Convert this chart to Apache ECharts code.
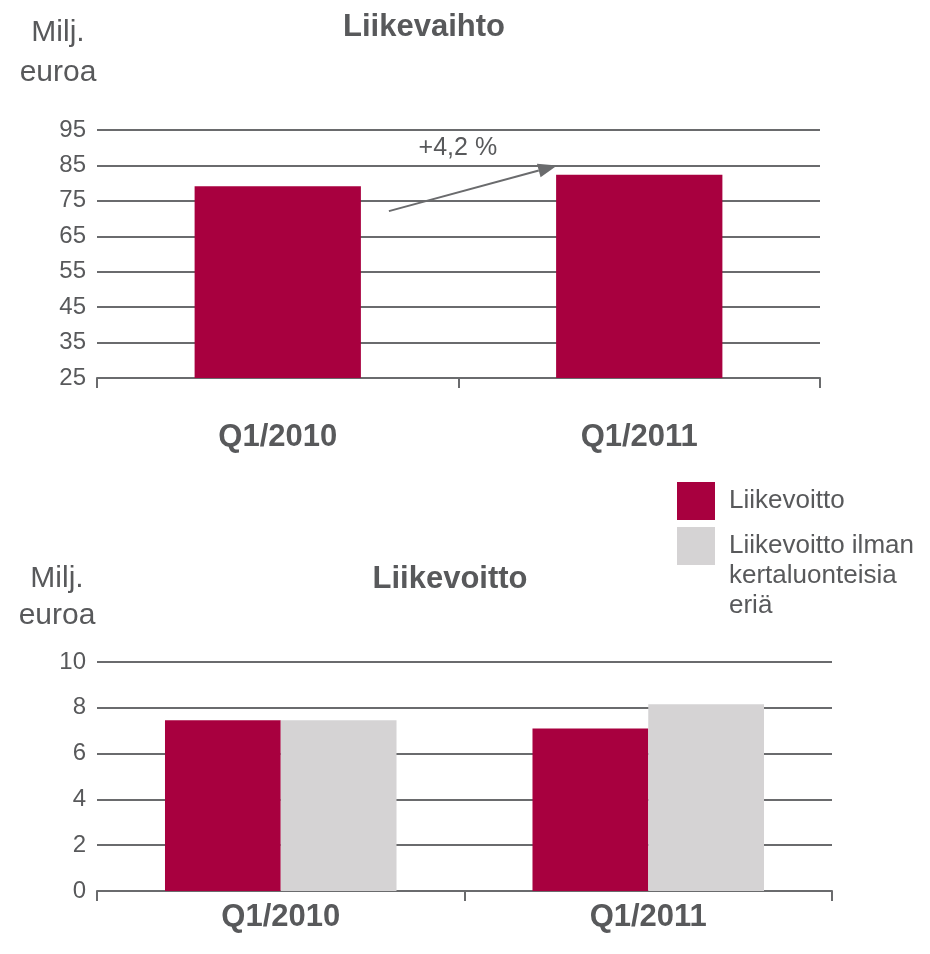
<!DOCTYPE html>
<html>
<head>
<meta charset="utf-8">
<script src="https://cdn.jsdelivr.net/npm/echarts@6/dist/echarts.min.js"></script>
<style>
html, body { margin: 0; background: #fff; }
#main { width: 930px; height: 954px; }
</style>
</head>
<body>
<div id="main"></div>
<script>
// data
var quarters = ['Q1/2010', 'Q1/2011'];
var liikevaihto = [79.1, 82.4];
var liikevoitto = [7.46, 7.1];
var liikevoittoIlman = [7.46, 8.16];
var topTicks = { min: 25, max: 95, interval: 10 };
var bottomTicks = { min: 0, max: 10, interval: 2 };
var kasvuTeksti = '+4,2 %';
var arrowFromValue = 72.1, arrowToValue = 85;

var RED = '#A8003F', GRAY = '#D5D3D4', TEXT = '#58595B', LINE = '#6A6B6D';
var FONT = '"Liberation Sans", Arial, sans-serif';
var name1 = 'Liikevoitto', name2 = 'Liikevoitto ilman kertaluonteisia eriä';

var myChart = echarts.init(document.getElementById('main'));

function yAxisOf(ticks, grid) {
    return {
        type: 'value', gridIndex: grid,
        min: ticks.min, max: ticks.max, interval: ticks.interval,
        axisLine: { show: false }, axisTick: { show: false },
        axisLabel: { color: TEXT, fontSize: 24, fontFamily: FONT, margin: 11 },
        splitLine: { lineStyle: { color: LINE, width: 2 } }
    };
}
function xAxisOf(grid, margin) {
    return {
        type: 'category', gridIndex: grid, data: quarters,
        axisLine: { show: true, lineStyle: { color: LINE, width: 2 } },
        axisTick: { show: true, alignWithLabel: false, length: 10, lineStyle: { color: LINE, width: 2 } },
        axisLabel: { color: TEXT, fontSize: 31, fontWeight: 'bold', fontFamily: FONT, margin: margin }
    };
}

var option = {
    animation: false,
    grid: [
        { left: 97, width: 723, top: 130, height: 248 },
        { left: 97, width: 735, top: 662, height: 229 }
    ],
    xAxis: [xAxisOf(0, 44), xAxisOf(1, 11)],
    yAxis: [yAxisOf(topTicks, 0), yAxisOf(bottomTicks, 1)],
    legend: [
        {
            data: [name1], left: 677, top: 482, orient: 'vertical', padding: 0,
            icon: 'rect', itemWidth: 38, itemHeight: 38, selectedMode: false,
            textStyle: { color: TEXT, fontSize: 26, fontFamily: FONT, lineHeight: 30, padding: [0, 0, 0, 9] }
        },
        {
            data: [name2], left: 677, top: 471, orient: 'vertical', padding: 0,
            icon: 'rect', itemWidth: 38, itemHeight: 38, selectedMode: false,
            formatter: function () { return '\n\nLiikevoitto ilman\nkertaluonteisia\neriä'; },
            textStyle: { color: TEXT, fontSize: 26, fontFamily: FONT, lineHeight: 30, padding: [0, 0, 0, 9] }
        }
    ],
    series: [
        {
            name: 'Liikevaihto', type: 'bar', xAxisIndex: 0, yAxisIndex: 0,
            data: liikevaihto, barCategoryGap: '54%', itemStyle: { color: RED }
        },
        {
            name: name1, type: 'bar', xAxisIndex: 1, yAxisIndex: 1,
            data: liikevoitto, barGap: 0, barCategoryGap: '37%', itemStyle: { color: RED }
        },
        {
            name: name2, type: 'bar', xAxisIndex: 1, yAxisIndex: 1,
            data: liikevoittoIlman, barGap: 0, barCategoryGap: '37%', itemStyle: { color: GRAY }
        }
    ]
};
myChart.setOption(option);

// titles, unit labels and the growth arrow
var c0 = myChart.convertToPixel({ xAxisIndex: 0, yAxisIndex: 0 }, [0, arrowFromValue]);
var c1 = myChart.convertToPixel({ xAxisIndex: 0, yAxisIndex: 0 }, [1, arrowToValue]);
var halfBar = (c1[0] - c0[0]) * 0.46 / 2;
var x1 = c0[0] + halfBar + 28, y1 = c0[1];
var x2 = c1[0] - halfBar + 1, y2 = c1[1];
var ang = Math.atan2(y2 - y1, x2 - x1), hl = 19, hw = 7;
var bx = x2 - hl * Math.cos(ang), by = y2 - hl * Math.sin(ang);
var tTop = myChart.convertToPixel({ yAxisIndex: 0 }, 89.8);

function txt(x, y, s, size, bold, lh) {
    return { type: 'text', x: x, y: y, style: { text: s, fill: TEXT, font: (bold ? 'bold ' : '') + size + 'px ' + FONT, textAlign: 'center', textVerticalAlign: 'middle', lineHeight: lh || size } };
}

myChart.setOption({
    graphic: [
        txt(424, 27, 'Liikevaihto', 31, true),
        txt(58, 53, 'Milj.\neuroa', 30, false, 40),
        txt(450, 579, 'Liikevoitto', 31, true),
        txt(57, 597, 'Milj.\neuroa', 30, false, 37),
        txt(x1 + (x2 - x1) * 0.41, tTop, kasvuTeksti, 25, false),
        { type: 'line', shape: { x1: x1, y1: y1, x2: bx, y2: by }, style: { stroke: LINE, lineWidth: 2 } },
        { type: 'polygon', shape: { points: [[x2, y2],
            [bx + hw * Math.sin(ang), by - hw * Math.cos(ang)],
            [bx - hw * Math.sin(ang), by + hw * Math.cos(ang)]] }, style: { fill: LINE } }
    ]
});
</script>
</body>
</html>
